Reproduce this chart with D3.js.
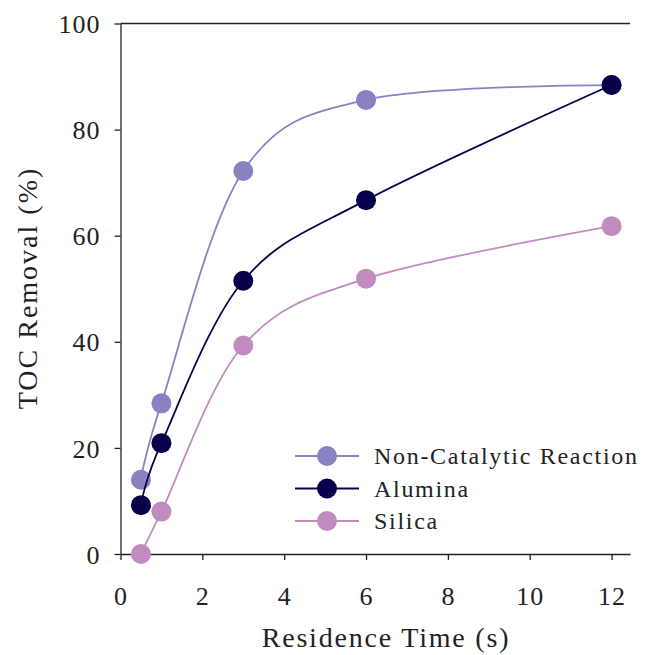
<!DOCTYPE html>
<html>
<head>
<meta charset="utf-8">
<script src="https://cdn.jsdelivr.net/npm/d3@7"></script>
<style>
  html, body { margin: 0; padding: 0; background: #fff; }
  svg { display: block; }
  svg text { font-family: "Liberation Serif", "Times New Roman", Times, serif; }
</style>
</head>
<body>
<svg id="chart" width="645" height="655"></svg>
<script>
// Residence time (s) at which TOC removal was measured
const residenceTime = [0.5, 1, 3, 6, 12];

// TOC removal (%) for each reactor condition
const nonCatalytic = [14.0, 28.4, 72.2, 85.6, 88.4];
const alumina      = [9.2, 20.9, 51.5, 66.7, 88.4];
const silica       = [0.0, 8.0, 39.3, 51.9, 61.8];

const seriesNames  = ["Non-Catalytic Reaction", "Alumina", "Silica"];
const seriesColors = ["#8882c0", "#07004a", "#c08cbe"];

const xTicks = [0, 2, 4, 6, 8, 10, 12];
const yTicks = [0, 20, 40, 60, 80, 100];

const series = [nonCatalytic, alumina, silica].map((vals, i) => ({
  name: seriesNames[i],
  color: seriesColors[i],
  points: residenceTime.map((t, j) => ({ x: t, y: vals[j] }))
}));

const svg = d3.select("#chart");
const plot = { left: 120.5, top: 23.5, right: 630, bottom: 554 };
const serif = "'Liberation Serif', 'Times New Roman', Times, serif";

const x = d3.scaleLinear().domain([0, 12.45]).range([plot.left, plot.right]);
const y = d3.scaleLinear().domain([0, 100]).range([plot.bottom, plot.top]);

// frame line along the top of the plot
svg.append("line")
  .attr("x1", plot.left).attr("x2", plot.right)
  .attr("y1", plot.top).attr("y2", plot.top)
  .attr("stroke", "#222").attr("stroke-width", 1.3);

const xAxis = svg.append("g")
  .attr("transform", `translate(0,${plot.bottom})`)
  .call(d3.axisBottom(x).tickValues(xTicks).tickSize(6).tickSizeOuter(0).tickPadding(27));
const yAxis = svg.append("g")
  .attr("transform", `translate(${plot.left},0)`)
  .call(d3.axisLeft(y).tickValues(yTicks).tickSize(6).tickSizeOuter(0).tickPadding(14));

[xAxis, yAxis].forEach(g => {
  g.attr("font-family", serif);
  g.select(".domain").attr("stroke", "#222").attr("stroke-width", 1.3);
  g.selectAll(".tick line").attr("stroke", "#222").attr("stroke-width", 1.3);
  g.selectAll(".tick text")
    .attr("fill", "#222")
    .style("font-family", serif)
    .style("font-size", "26px")
    .style("letter-spacing", "1px");
});
yAxis.selectAll(".tick text").attr("dy", "0.35em");
xAxis.selectAll(".tick text").attr("dy", "0.71em");

// axis titles
svg.append("text")
  .attr("x", 386).attr("y", 647)
  .attr("text-anchor", "middle")
  .attr("fill", "#222")
  .style("font-size", "28px")
  .style("letter-spacing", "1.8px")
  .text("Residence Time (s)");

svg.append("text")
  .attr("transform", `translate(37,${288}) rotate(-90)`)
  .attr("text-anchor", "middle")
  .attr("fill", "#222")
  .style("font-size", "28px")
  .style("letter-spacing", "2px")
  .text("TOC Removal (%)");

// smoothed series lines (uniform Catmull-Rom spline)
const line = d3.line()
  .x(d => x(d.x))
  .y(d => y(d.y))
  .curve(d3.curveCardinal.tension(0));

series.forEach(s => {
  svg.append("path")
    .datum(s.points)
    .attr("fill", "none")
    .attr("stroke", s.color)
    .attr("stroke-width", 1.8)
    .attr("d", line);
  svg.append("g").selectAll("circle")
    .data(s.points)
    .join("circle")
    .attr("cx", d => x(d.x))
    .attr("cy", d => y(d.y))
    .attr("r", 10)
    .attr("fill", s.color);
});

// legend
const legend = svg.append("g").attr("transform", "translate(295,456)");
series.forEach((s, i) => {
  const row = legend.append("g").attr("transform", `translate(0,${i * 32.5})`);
  row.append("line")
    .attr("x1", 0).attr("x2", 64)
    .attr("y1", 0).attr("y2", 0)
    .attr("stroke", s.color).attr("stroke-width", 1.8);
  row.append("circle")
    .attr("cx", 32).attr("cy", 0).attr("r", 10)
    .attr("fill", s.color);
  row.append("text")
    .attr("x", 79).attr("y", 0).attr("dy", "0.35em")
    .attr("fill", "#222")
    .style("font-size", "24px")
    .style("letter-spacing", "1.7px")
    .text(s.name);
});
</script>
</body>
</html>
